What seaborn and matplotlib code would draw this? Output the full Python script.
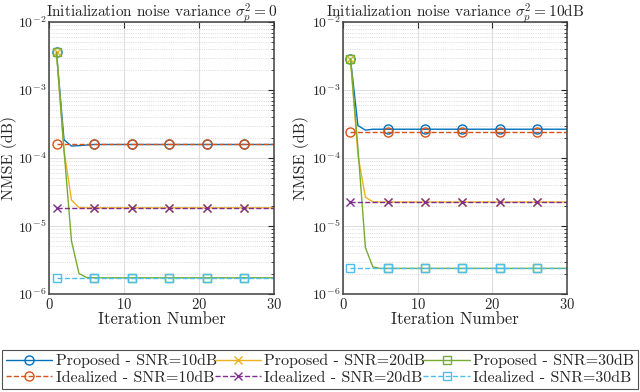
import matplotlib
matplotlib.use("Agg")
import matplotlib.pyplot as plt
import seaborn as sns
import pandas as pd
import math
from matplotlib.ticker import LogLocator, FuncFormatter, NullFormatter, FixedLocator

# ---------------- data ----------------
iterations = list(range(1, 31))

# left panel: sigma_p^2 = 0
left_prop_10 = [3.6e-3, 1.85e-4, 1.5e-4, 1.52e-4, 1.55e-4] + [1.58e-4] * 25
left_prop_20 = [3.6e-3, 1.3e-4, 2.4e-5, 1.87e-5] + [1.85e-5] * 26
left_prop_30 = [3.6e-3, 1.3e-4, 6.0e-6, 2.0e-6, 1.75e-6] + [1.73e-6] * 25
left_ideal_10 = [1.6e-4] * 30
left_ideal_20 = [1.85e-5] * 30
left_ideal_30 = [1.73e-6] * 30

# right panel: sigma_p^2 = 10 dB
right_prop_10 = [2.9e-3, 3.0e-4, 2.57e-4] + [2.65e-4] * 27
right_prop_20 = [2.9e-3, 1.1e-4, 2.65e-5, 2.27e-5] + [2.25e-5] * 26
right_prop_30 = [2.9e-3, 1.4e-4, 4.8e-6, 2.5e-6] + [2.38e-6] * 26
right_ideal_10 = [2.4e-4] * 30
right_ideal_20 = [2.25e-5] * 30
right_ideal_30 = [2.38e-6] * 30

titles = [r"Initialization noise variance $\sigma_p^2 = 0$",
          r"Initialization noise variance $\sigma_p^2 = 10$dB"]
series_labels = ["Proposed - SNR=10dB", "Proposed - SNR=20dB", "Proposed - SNR=30dB",
                 "Idealized - SNR=10dB", "Idealized - SNR=20dB", "Idealized - SNR=30dB"]
x_ticks = [0, 10, 20, 30]

# ---------------- style ----------------
sns.set_theme(style="white")
plt.rcParams["mathtext.fontset"] = "cm"
plt.rcParams["font.family"] = ["cmr10", "DejaVu Serif"]
plt.rcParams["axes.formatter.use_mathtext"] = True

colors = ["#0072BD", "#EDB120", "#77AC30", "#D95319", "#7E2F8E", "#4DBEEE"]
markers = ["o", "x", "s", "o", "x", "s"]
msizes = [6.5, 5.5, 6.0, 6.5, 5.5, 6.0]
styles = ["-", "-", "-", "--", "--", "--"]

fig = plt.figure(figsize=(6.4, 3.92), dpi=100)
ax_l = fig.add_axes([49 / 640, 1 - 294 / 392, 225 / 640, 272 / 392])
ax_r = fig.add_axes([343 / 640, 1 - 294 / 392, 224 / 640, 272 / 392])

panels = [
    (ax_l, [left_prop_10, left_prop_20, left_prop_30, left_ideal_10, left_ideal_20, left_ideal_30]),
    (ax_r, [right_prop_10, right_prop_20, right_prop_30, right_ideal_10, right_ideal_20, right_ideal_30]),
]
label_x = [-0.14, -0.15]

def log_fmt(v, pos):
    e = int(round(math.log10(v)))
    return r"$\mathsf{10^{%d}}$" % e

def x_fmt(v, pos):
    return r"$\mathsf{%d}$" % int(round(v))

handles = None
for i, (ax, series) in enumerate(panels):
    for k, vals in enumerate(series):
        df = pd.DataFrame({"Iteration": iterations, "NMSE": vals})
        sns.lineplot(data=df, x="Iteration", y="NMSE", ax=ax, color=colors[k],
                     linestyle=styles[k], linewidth=1.0, marker=markers[k], markevery=5,
                     markersize=msizes[k], markerfacecolor="none", markeredgecolor=colors[k],
                     markeredgewidth=1.0, label=series_labels[k], legend=False)
    ax.set_yscale("log")
    ax.set_xlim(0, 30)
    ax.set_ylim(1e-6, 1e-2)
    ax.xaxis.set_major_locator(FixedLocator(x_ticks))
    ax.xaxis.set_major_formatter(FuncFormatter(x_fmt))
    ax.yaxis.set_major_locator(LogLocator(base=10, numticks=10))
    ax.yaxis.set_minor_locator(LogLocator(base=10, subs=range(2, 10), numticks=10))
    ax.yaxis.set_major_formatter(FuncFormatter(log_fmt))
    ax.yaxis.set_minor_formatter(NullFormatter())
    ax.grid(True, which="major", color="#dedede", linewidth=0.8, linestyle="-")
    ax.grid(True, which="minor", axis="y", color="#d0d0d0", linewidth=0.6, linestyle=":")
    ax.set_axisbelow(True)
    ax.tick_params(which="both", direction="in", top=True, right=True,
                   colors="#262626", labelcolor="#262626")
    ax.tick_params(which="major", length=4, width=0.8, labelsize=10.5, pad=2)
    ax.tick_params(axis="y", which="major", labelsize=10, pad=2)
    ax.tick_params(which="minor", length=2, width=0.6)
    for sp in ax.spines.values():
        sp.set_color("#404040")
        sp.set_linewidth(1.1)
    ax.set_title(titles[i], fontsize=11, pad=4)
    ax.set_xlabel("Iteration Number", fontsize=12, labelpad=0)
    ax.set_ylabel("NMSE (dB)", fontsize=11.5, labelpad=0)
    ax.yaxis.set_label_coords(label_x[i], 0.5)
    if i == 0:
        handles = ax.get_lines()[:6]

order = [0, 3, 1, 4, 2, 5]
leg = fig.legend([handles[j] for j in order], [series_labels[j] for j in order],
                 loc="lower left", bbox_to_anchor=(2 / 640, 3 / 392, 636 / 640, 43 / 392),
                 mode="expand", ncol=3, frameon=True, fancybox=False, fontsize=11.5,
                 handlelength=2.9, handletextpad=0.2, labelspacing=0.15, borderpad=0.25,
                 borderaxespad=0, columnspacing=0.1)
leg.get_frame().set_edgecolor("#262626")
leg.get_frame().set_linewidth(0.8)

fig.savefig("out.png", dpi=100)
